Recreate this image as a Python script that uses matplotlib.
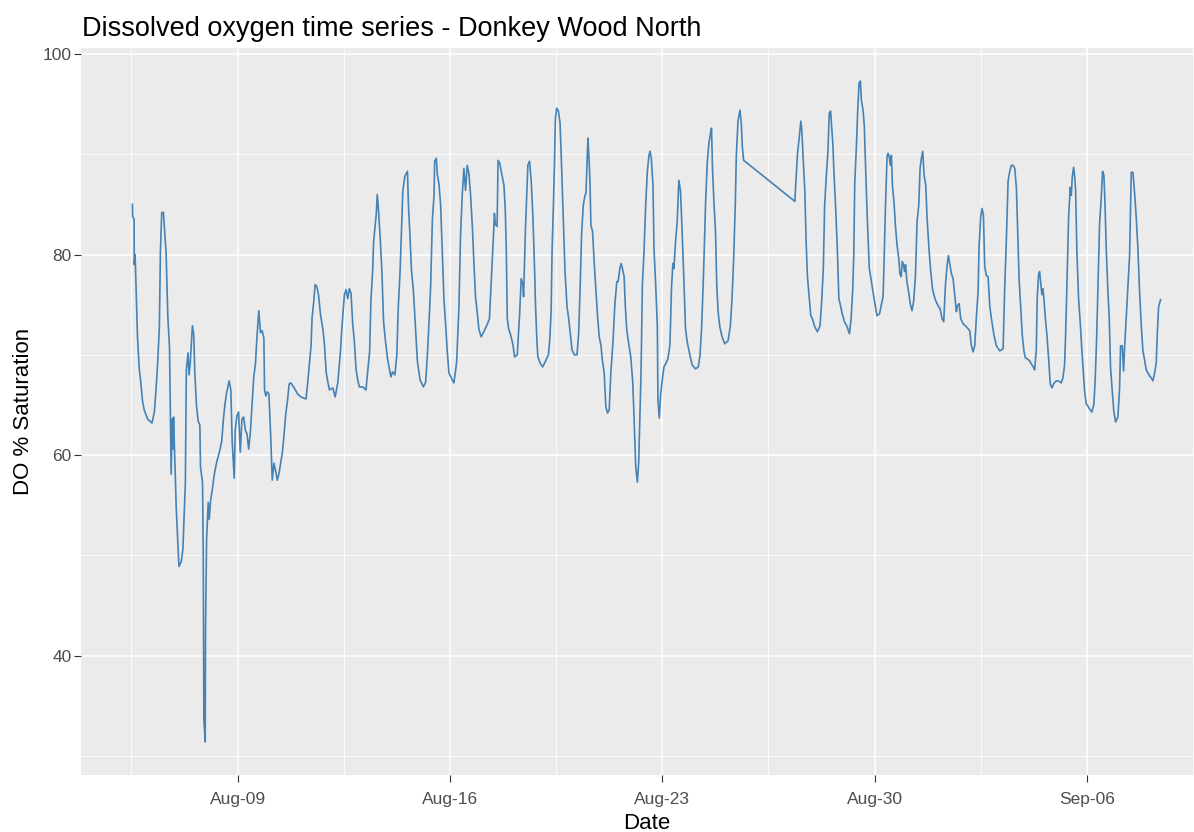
import numpy as np
import pandas as pd
import matplotlib
matplotlib.use("Agg")
import matplotlib.pyplot as plt
import matplotlib.dates as mdates
from matplotlib.ticker import FixedLocator

plt.rcParams["font.family"] = ["Liberation Sans", "DejaVu Sans"]

# Logger readings: fractional day counted from the start of August
# (32.0 = 1 Sep), and dissolved oxygen in % saturation.
aug_day = [
    5.533, 5.54, 5.589, 5.594, 5.622, 5.644, 5.70, 5.756, 5.811, 5.867, 5.922,
    6.033, 6.178, 6.256, 6.311, 6.367, 6.422, 6.456, 6.50, 6.556, 6.589, 6.644,
    6.70, 6.756, 6.789, 6.811, 6.844, 6.867, 6.889, 6.922, 6.978,
    7.033, 7.067, 7.144, 7.20, 7.233, 7.278, 7.311, 7.367, 7.40, 7.444, 7.511,
    7.556, 7.589, 7.644, 7.70, 7.756, 7.778, 7.844, 7.867, 7.889, 7.933, 7.944,
    7.978,
    8.033, 8.067, 8.111, 8.178, 8.233, 8.311, 8.40, 8.478, 8.533, 8.589, 8.644,
    8.722, 8.778, 8.822, 8.889, 8.922, 8.978,
    9.033, 9.089, 9.144, 9.20, 9.256, 9.311, 9.367, 9.422, 9.478, 9.533, 9.589,
    9.644, 9.70, 9.756, 9.811, 9.867, 9.889, 9.933, 9.978,
    10.033, 10.089, 10.144, 10.20, 10.256, 10.311, 10.367, 10.478, 10.533,
    10.589, 10.644, 10.70, 10.756, 10.867, 10.978,
    11.089, 11.256, 11.311, 11.367, 11.422, 11.456, 11.511, 11.556, 11.611,
    11.668, 11.734, 11.811, 11.865, 11.92, 11.975,
    12.03, 12.139, 12.216, 12.303, 12.391, 12.445, 12.522, 12.577, 12.631,
    12.686, 12.741, 12.795, 12.85, 12.905, 12.96,
    13.014, 13.124, 13.233, 13.288, 13.353, 13.397, 13.452, 13.485, 13.528,
    13.572, 13.605, 13.649, 13.703, 13.758, 13.813, 13.868, 13.944,
    14.054, 14.108, 14.185, 14.251, 14.294, 14.36, 14.404, 14.447, 14.513,
    14.601, 14.633, 14.688, 14.732, 14.798, 14.874, 14.929,
    15.016, 15.126, 15.202, 15.257, 15.312, 15.367, 15.421, 15.476, 15.498,
    15.553, 15.585, 15.64, 15.695, 15.749, 15.804, 15.859, 15.914, 15.968,
    16.078, 16.132, 16.22, 16.296, 16.351, 16.406, 16.461, 16.515, 16.57,
    16.625, 16.68, 16.745, 16.789, 16.844, 16.898, 16.953,
    17.03, 17.117, 17.226, 17.303, 17.358, 17.402, 17.445, 17.467, 17.50,
    17.555, 17.588, 17.642, 17.782, 17.826, 17.859, 17.892, 17.935,
    18.001, 18.078, 18.132, 18.22, 18.297, 18.351, 18.406, 18.428, 18.461,
    18.494, 18.537, 18.57, 18.625, 18.679, 18.734, 18.789, 18.822, 18.865,
    18.898, 18.986,
    19.062, 19.172, 19.248, 19.292, 19.336, 19.369, 19.412, 19.445, 19.478,
    19.522, 19.577, 19.631, 19.664, 19.719, 19.752, 19.795, 19.861, 19.916,
    19.97,
    20.025, 20.102, 20.189, 20.244, 20.299, 20.342, 20.397, 20.452, 20.485,
    20.518, 20.55, 20.583, 20.616, 20.649, 20.703, 20.758, 20.813, 20.868,
    20.922, 20.977,
    21.021, 21.086, 21.141, 21.196, 21.251, 21.305, 21.382, 21.437, 21.502,
    21.546, 21.601, 21.644, 21.688, 21.743, 21.787, 21.83, 21.885, 21.962,
    22.027, 22.071, 22.126, 22.18, 22.224, 22.257, 22.301, 22.345, 22.399,
    22.454, 22.509, 22.563, 22.596, 22.64, 22.695, 22.728, 22.782, 22.837,
    22.859, 22.903, 22.946,
    23.001, 23.056, 23.11, 23.187, 23.253, 23.307, 23.351, 23.384, 23.439,
    23.493, 23.548, 23.603, 23.658, 23.712, 23.767, 23.822, 23.909, 23.986,
    24.095, 24.188, 24.243, 24.297, 24.352, 24.384, 24.428, 24.483, 24.537,
    24.592, 24.624, 24.657, 24.701, 24.755, 24.799, 24.842, 24.897, 24.973,
    25.061, 25.17, 25.246, 25.30, 25.355, 25.409, 25.442, 25.497, 25.562,
    25.606, 25.639, 25.682,
    27.372, 27.406, 27.46, 27.514, 27.569, 27.601, 27.645, 27.70, 27.743,
    27.787, 27.841, 27.896, 27.95,
    28.027, 28.114, 28.201, 28.256, 28.31, 28.354, 28.408, 28.463, 28.507,
    28.55, 28.583, 28.627, 28.659, 28.714, 28.768, 28.823, 28.877, 28.932,
    29.008, 29.095, 29.172, 29.226, 29.281, 29.314, 29.346, 29.401, 29.444,
    29.488, 29.532, 29.564, 29.619, 29.662, 29.728, 29.772, 29.826, 29.881,
    29.946,
    30.022, 30.077, 30.164, 30.28, 30.313, 30.357, 30.412, 30.445, 30.478,
    30.522, 30.555, 30.588, 30.643, 30.687, 30.742, 30.797, 30.835, 30.879,
    30.912, 30.956, 30.989,
    31.022, 31.066, 31.121, 31.176, 31.231, 31.286, 31.346, 31.401, 31.456,
    31.50, 31.544, 31.588, 31.632, 31.687, 31.731, 31.797, 31.852, 31.907,
    31.962,
    32.016, 32.093, 32.159, 32.225, 32.28, 32.335, 32.39, 32.434, 32.478,
    32.533, 32.588, 32.643, 32.698, 32.731, 32.786, 32.841, 32.918,
    33.027, 33.137, 33.192, 33.247, 33.302, 33.357, 33.412, 33.445, 33.50,
    33.544, 33.588, 33.632, 33.687, 33.742, 33.797, 33.852, 33.94,
    34.016, 34.126, 34.236, 34.291, 34.346, 34.401, 34.456, 34.511, 34.566,
    34.621, 34.676, 34.709, 34.764, 34.819, 34.868, 34.923, 34.967,
    35.033, 35.11, 35.187, 35.253, 35.275, 35.33, 35.363, 35.407, 35.44,
    35.473, 35.516, 35.549, 35.582, 35.626, 35.681, 35.736, 35.791, 35.846,
    35.901, 35.989,
    36.066, 36.154, 36.209, 36.264, 36.297, 36.341, 36.396, 36.451, 36.484,
    36.516, 36.56, 36.593, 36.626, 36.67, 36.725, 36.78, 36.835, 36.879,
    36.923, 36.978,
    37.033, 37.088, 37.165, 37.231, 37.275, 37.319, 37.363, 37.418, 37.473,
    37.516, 37.56, 37.593, 37.637, 37.692, 37.736, 37.78, 37.835, 37.89,
    37.945,
    38.022, 38.077, 38.11, 38.165, 38.209, 38.242, 38.297, 38.352, 38.407,
    38.462, 38.516, 38.571, 38.626, 38.681, 38.736, 38.791, 38.846, 38.901,
    38.956,
    39.011, 39.066, 39.121, 39.176, 39.231, 39.286, 39.319, 39.363, 39.429,
]

do_sat = [
    85.0, 83.8, 83.5, 79.0, 80.0, 77.7, 71.8, 68.7, 67.2, 65.4, 64.5,
    63.6, 63.2, 64.3, 66.5, 69.3, 72.8, 80.3, 84.2, 84.2, 82.7, 80.1,
    73.9, 70.7, 63.4, 58.1, 63.6, 60.6, 63.8, 60.4, 54.7,
    51.1, 48.9, 49.4, 50.7, 53.6, 57.1, 68.5, 70.2, 68.0, 69.4, 72.9,
    72.0, 68.3, 65.0, 63.4, 63.0, 58.8, 57.3, 50.7, 33.6, 31.4, 42.8,
    51.6,
    55.3, 53.6, 55.5, 56.8, 58.1, 59.3, 60.3, 61.4, 63.6, 65.2, 66.3,
    67.4, 66.5, 61.4, 57.7, 62.5, 63.9,
    64.3, 60.3, 63.6, 63.8, 62.5, 62.1, 60.6, 62.3, 65.0, 67.8, 69.1,
    72.0, 74.4, 72.2, 72.4, 71.7, 66.5, 65.9, 66.3,
    66.1, 62.1, 57.5, 59.2, 58.4, 57.5, 58.2, 60.3, 62.1,
    64.1, 65.4, 67.1, 67.2, 66.7, 66.1,
    65.8, 65.6, 67.2, 69.1, 70.9, 73.7, 75.3, 77.0, 76.8,
    76.0, 74.0, 72.6, 71.0, 68.3, 67.3,
    66.5, 66.7, 65.8, 67.2, 70.3, 73.0, 76.0, 76.5, 75.6,
    76.6, 76.1, 73.1, 71.3, 68.6, 67.5,
    66.8, 66.8, 66.5, 68.3, 70.3, 75.5, 78.3, 81.3, 82.6,
    84.0, 86.0, 84.3, 81.6, 78.3, 73.3, 71.6, 69.6,
    67.8, 68.3, 68.0, 70.0, 74.5, 78.5, 82.5, 86.3, 87.8,
    88.3, 84.9, 81.6, 78.5, 76.3, 72.3, 69.3,
    67.5, 66.8, 67.3, 70.0, 73.3, 77.0, 83.4, 85.9, 89.3,
    89.6, 88.0, 87.0, 84.9, 80.3, 75.5, 73.0, 70.3, 68.2,
    67.5, 67.2, 69.2, 74.6, 82.0, 85.9, 88.6, 86.4, 88.9,
    88.1, 86.0, 82.5, 79.3, 75.8, 74.3, 72.6,
    71.8, 72.3, 73.0, 73.6, 77.0, 79.6, 82.5, 84.1, 83.0,
    82.8, 89.4, 89.1, 86.9, 84.4, 80.5, 73.6, 72.6,
    72.0, 71.0, 69.8, 70.0, 74.0, 77.6, 77.0, 75.8, 79.5,
    82.9, 86.4, 88.9, 89.3, 87.4, 83.9, 78.8, 75.0, 71.6,
    69.8, 69.1,
    68.8, 69.5, 70.0, 71.5, 74.3, 80.5, 84.9, 88.8, 93.6,
    94.6, 94.3, 93.1, 90.4, 85.3, 82.1, 78.3, 74.8, 73.6,
    72.1,
    70.5, 70.0, 70.0, 72.1, 77.3, 82.1, 84.9, 85.9, 86.1,
    88.9, 91.6, 89.8, 87.4, 82.9, 82.3, 79.1, 76.5, 73.8,
    71.8, 71.0,
    69.6, 68.2, 64.8, 64.2, 64.5, 68.2, 71.6, 75.0, 77.3,
    77.3, 78.6, 79.1, 78.6, 77.8, 74.6, 72.5, 71.3, 69.8,
    67.3, 63.7, 58.8, 57.3, 59.3, 63.0, 68.3, 77.0, 80.3,
    84.9, 88.3, 89.9, 90.3, 89.6, 86.9, 80.5, 77.1, 73.0,
    65.5, 63.7, 66.0,
    67.5, 68.8, 69.1, 69.6, 71.0, 76.8, 79.1, 78.6, 81.3,
    83.3, 87.4, 86.3, 82.1, 77.6, 72.6, 71.3, 70.0, 69.0,
    68.6, 68.8, 69.9, 72.6, 77.3, 80.4, 85.1, 89.1, 91.1,
    92.1, 92.6, 88.6, 85.4, 82.3, 76.8, 74.3, 72.8, 71.8,
    71.1, 71.4, 72.9, 75.6, 79.6, 85.1, 89.9, 93.3, 94.4,
    93.1, 90.8, 89.4,
    85.3, 87.3, 90.1, 91.6, 93.3, 92.4, 89.6, 86.4, 81.3,
    77.8, 75.9, 73.9, 73.6,
    72.8, 72.3, 72.9, 75.3, 78.6, 84.9, 87.8, 90.3, 94.1,
    94.3, 92.9, 90.9, 88.3, 84.8, 80.9, 75.6, 74.9, 74.1,
    73.3, 72.8, 72.1, 73.6, 76.6, 79.9, 87.1, 90.8, 94.4,
    97.1, 97.3, 95.4, 94.4, 92.8, 86.4, 82.6, 78.6, 77.6,
    76.3,
    74.9, 73.9, 74.1, 75.8, 79.3, 84.6, 89.8, 90.1, 89.8,
    88.9, 89.9, 86.9, 85.1, 82.9, 80.9, 79.6, 78.1, 77.8,
    79.3, 79.0, 78.3,
    79.0, 77.3, 76.3, 75.1, 74.4, 75.3, 77.8, 83.3, 84.9,
    88.6, 89.6, 90.3, 87.9, 86.9, 83.6, 80.4, 78.3, 76.6,
    75.9,
    75.4, 74.9, 74.6, 73.6, 73.3, 76.9, 78.9, 79.9, 79.1,
    78.1, 77.6, 75.9, 74.3, 74.9, 75.1, 73.6, 73.1,
    72.8, 72.4, 70.9, 70.3, 70.9, 73.8, 76.3, 80.8, 83.8,
    84.6, 83.9, 78.8, 77.9, 77.8, 74.9, 73.6, 71.9,
    70.9, 70.4, 70.6, 76.8, 81.6, 87.3, 88.3, 88.9, 88.9,
    88.6, 86.6, 83.3, 77.6, 74.6, 72.0, 70.4, 69.7,
    69.6, 69.4, 69.0, 68.7, 68.5, 70.4, 75.8, 78.0, 78.3,
    77.3, 76.0, 76.6, 75.6, 73.8, 72.0, 69.7, 67.1, 66.7,
    67.1, 67.4,
    67.4, 67.2, 67.7, 69.0, 72.0, 77.0, 83.7, 86.7, 85.9,
    87.7, 88.7, 87.9, 86.5, 80.3, 75.6, 73.2, 70.4, 68.4,
    66.4, 65.1,
    64.9, 64.6, 64.3, 65.1, 67.7, 71.5, 76.8, 83.1, 85.7,
    88.3, 87.9, 85.4, 80.6, 76.3, 73.7, 68.7, 66.4, 64.3,
    63.3,
    63.8, 66.7, 70.9, 70.9, 68.4, 70.7, 73.8, 77.1, 79.9,
    88.2, 88.2, 86.2, 83.7, 80.6, 76.3, 73.0, 70.4, 69.5,
    68.5,
    68.2, 67.9, 67.7, 67.4, 68.2, 69.2, 72.0, 74.8, 75.5,
]

x_breaks = ["2021-08-09", "2021-08-16", "2021-08-23", "2021-08-30", "2021-09-06"]
y_breaks = [40, 60, 80, 100]
y_minor = [30, 50, 70, 90]

TITLE = "Dissolved oxygen time series - Donkey Wood North"

# ---- build the time axis ---------------------------------------------------
month_start = pd.Timestamp("2021-08-01")
stamps = month_start + pd.to_timedelta(np.asarray(aug_day) - 1.0, unit="D")
xnum = mdates.date2num(stamps.to_pydatetime())
yval = np.asarray(do_sat)

major_x = mdates.date2num(pd.to_datetime(x_breaks).to_pydatetime())
minor_x = np.append(major_x - 3.5, major_x[-1] + 3.5)

# ggplot-style 5 % expansion of the data range
def expand(lo, hi, frac=0.05):
    pad = (hi - lo) * frac
    return lo - pad, hi + pad

# ---- figure ---------------------------------------------------------------
W, H = 1194, 832
fig = plt.figure(figsize=(W / 100, H / 100), dpi=100)
fig.patch.set_facecolor("white")
ax = fig.add_axes([81 / W, 57 / H, 1131 / W, 727 / H])
ax.set_facecolor("#EBEBEB")
for sp in ax.spines.values():
    sp.set_visible(False)

ax.plot(xnum, yval, color="#4682B4", lw=1.2, solid_joinstyle="round")

ax.set_xlim(*expand(xnum.min(), xnum.max()))
ax.set_ylim(*expand(yval.min(), yval.max()))

ax.xaxis.set_major_locator(FixedLocator(major_x))
ax.xaxis.set_minor_locator(FixedLocator(minor_x))
ax.xaxis.set_major_formatter(mdates.DateFormatter("%b-%d"))
ax.yaxis.set_major_locator(FixedLocator(y_breaks))
ax.yaxis.set_minor_locator(FixedLocator(y_minor))

ax.set_axisbelow(True)
ax.grid(which="major", color="white", lw=1.1)
ax.grid(which="minor", color="white", lw=0.55)

ax.tick_params(which="major", length=4.8, width=0.8, color="#333333",
               labelcolor="#4D4D4D", labelsize=12.5)
ax.tick_params(axis="x", which="major", pad=7.5)
ax.tick_params(axis="y", which="major", pad=1.8)
ax.tick_params(which="minor", length=0)

ax.set_xlabel("Date", fontsize=16, color="black", labelpad=4.5)
ax.set_ylabel("DO % Saturation", fontsize=16, color="black", labelpad=6)

fig.text(82 / W, 1 - 36 / H, TITLE, fontsize=19.5, color="black",
         ha="left", va="baseline")

fig.savefig("out.png", dpi=100)
